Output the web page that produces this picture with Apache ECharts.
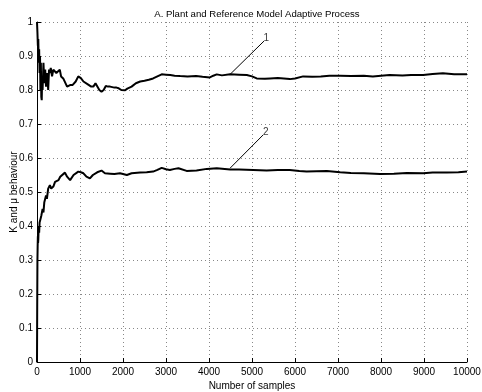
<!DOCTYPE html>
<html><head><meta charset="utf-8">
<script src="https://cdn.jsdelivr.net/npm/echarts@6/dist/echarts.min.js"></script>
<style>html,body{margin:0;padding:0;background:#fff}#c{width:482px;height:392px}</style>
</head><body><div id="c"></div>
<script>
var titleText = "A. Plant and Reference Model Adaptive Process";
var xName = "Number of samples";
var yName = "K and \u03bc behaviour";
var xTicks = [0,1000,2000,3000,4000,5000,6000,7000,8000,9000,10000];
var yTicks = [0,0.1,0.2,0.3,0.4,0.5,0.6,0.7,0.8,0.9,1];

var curve1 = [
[0,1.0],[10,0.97],[20,0.93],[30,0.95],[40,0.88],[50,0.92],[60,0.85],[70,0.90],[80,0.80],[90,0.88],
[100,0.78],[110,0.77],[120,0.84],[130,0.80],[150,0.88],[170,0.82],[190,0.86],[210,0.81],[240,0.85],
[260,0.80],[280,0.86],[300,0.85],[320,0.865],[350,0.84],[380,0.86],[420,0.865],[450,0.85],[490,0.845],
[530,0.86],[560,0.84],[610,0.834],[650,0.83],[700,0.81],[730,0.805],[780,0.815],[830,0.815],[900,0.825],
[960,0.84],[1020,0.835],[1080,0.825],[1120,0.825],[1200,0.815],[1260,0.81],[1310,0.81],[1360,0.82],
[1400,0.815],[1450,0.80],[1500,0.795],[1550,0.80],[1600,0.812],[1650,0.81],[1700,0.81],[1800,0.807],
[1850,0.807],[1900,0.805],[1960,0.80],[2050,0.799],[2100,0.804],[2200,0.81],[2300,0.82],[2400,0.825],
[2500,0.827],[2600,0.83],[2700,0.834],[2800,0.84],[2900,0.846],[3000,0.845],[3100,0.844],[3200,0.842],
[3330,0.841],[3500,0.84],[3700,0.841],[3850,0.839],[4020,0.837],[4100,0.842],[4180,0.846],[4300,0.843],
[4490,0.846],[4700,0.845],[4880,0.844],[5000,0.84],[5110,0.834],[5300,0.833],[5420,0.834],[5600,0.835],
[5880,0.832],[6000,0.834],[6190,0.84],[6400,0.839],[6600,0.84],[6800,0.842],[7050,0.842],[7300,0.841],
[7600,0.842],[7810,0.84],[8000,0.842],[8200,0.844],[8500,0.843],[8700,0.844],[8980,0.844],[9200,0.847],
[9440,0.849],[9700,0.846],[10000,0.846]
];

var curve2 = [
[0,0.0],[3,0.1],[6,0.2],[10,0.3],[15,0.34],[20,0.37],[25,0.35],[30,0.36],[40,0.40],[50,0.38],[60,0.41],
[80,0.42],[100,0.43],[110,0.427],[130,0.45],[150,0.44],[170,0.47],[190,0.467],[210,0.49],[230,0.48],
[260,0.51],[280,0.505],[300,0.52],[330,0.51],[380,0.516],[420,0.53],[460,0.525],[500,0.535],[540,0.545],
[580,0.54],[650,0.557],[700,0.545],[770,0.535],[850,0.55],[960,0.56],[1020,0.558],[1080,0.555],
[1150,0.545],[1230,0.54],[1300,0.55],[1400,0.558],[1500,0.563],[1580,0.555],[1700,0.554],[1800,0.553],
[1930,0.555],[2090,0.55],[2200,0.555],[2400,0.557],[2550,0.558],[2700,0.56],[2800,0.565],[2900,0.571],
[3000,0.567],[3090,0.565],[3200,0.568],[3290,0.57],[3480,0.562],[3710,0.563],[3950,0.568],[4180,0.57],
[4490,0.566],[4700,0.566],[5030,0.565],[5340,0.563],[5600,0.565],[5880,0.565],[6100,0.562],[6270,0.56],
[6500,0.561],[6740,0.562],[7050,0.558],[7300,0.556],[7600,0.555],[7980,0.553],[8300,0.554],[8600,0.556],
[8980,0.555],[9200,0.557],[9530,0.557],[9800,0.558],[10000,0.56]
];

var leader1 = [[4490,0.846],[5280,0.944]];
var leader2 = [[4490,0.570],[5260,0.668]];
var labelPts = [[5330,0.953,"1"],[5320,0.676,"2"]];

var chart = echarts.init(document.getElementById('c'), null, {renderer:'canvas'});
var font = 'Liberation Sans, Arial, Helvetica, sans-serif';
chart.setOption({
  animation:false,
  backgroundColor:'#fff',
  title:{text:titleText,left:252,top:4,textAlign:'center',
    textStyle:{fontFamily:font,fontSize:9.6,fontWeight:'normal',color:'#000'}},
  grid:{left:37,right:15,top:22,bottom:30,containLabel:false,outerBoundsMode:'none'},
  xAxis:{type:'value',min:0,max:10000,interval:1000,
    name:xName,nameLocation:'middle',nameGap:19,nameMoveOverlap:false,
    nameTextStyle:{fontFamily:font,fontSize:10,color:'#000'},
    axisLine:{show:true,lineStyle:{color:'#000',width:1}},
    axisTick:{show:true,inside:true,length:4,lineStyle:{color:'#000'}},
    axisLabel:{fontFamily:font,fontSize:10,color:'#000',margin:5,
      formatter:function(v){return xTicks.indexOf(v)>=0?String(v):'';}},
    splitLine:{show:true,lineStyle:{color:'#888',type:[1,3],width:1}}},
  yAxis:{type:'value',min:0,max:1,interval:0.1,
    name:yName,nameLocation:'middle',nameGap:18,nameMoveOverlap:false,
    nameTextStyle:{fontFamily:font,fontSize:10,color:'#000'},
    axisLine:{show:true,lineStyle:{color:'#000',width:1}},
    axisTick:{show:true,inside:true,length:4,lineStyle:{color:'#000'}},
    axisLabel:{fontFamily:font,fontSize:10,color:'#000',margin:4,
      formatter:function(v){var r=Math.round(v*10)/10;return r===0?'0':(r===1?'1':String(r));}},
    splitLine:{show:true,lineStyle:{color:'#888',type:[1,3],width:1}}},
  series:[
    {type:'line',data:curve1,showSymbol:false,symbol:'none',
      lineStyle:{color:'#000',width:2},z:5},
    {type:'line',data:curve2,showSymbol:false,symbol:'none',
      lineStyle:{color:'#000',width:2},z:5},
    {type:'line',data:leader1,showSymbol:false,symbol:'none',lineStyle:{color:'#000',width:1}},
    {type:'line',data:leader2,showSymbol:false,symbol:'none',lineStyle:{color:'#000',width:1}},
    {type:'scatter',data:labelPts,symbolSize:0,
      label:{show:true,position:'inside',formatter:function(p){return p.data[2];},
        fontFamily:font,fontSize:10,color:'#000'}}
  ]
});
</script></body></html>
